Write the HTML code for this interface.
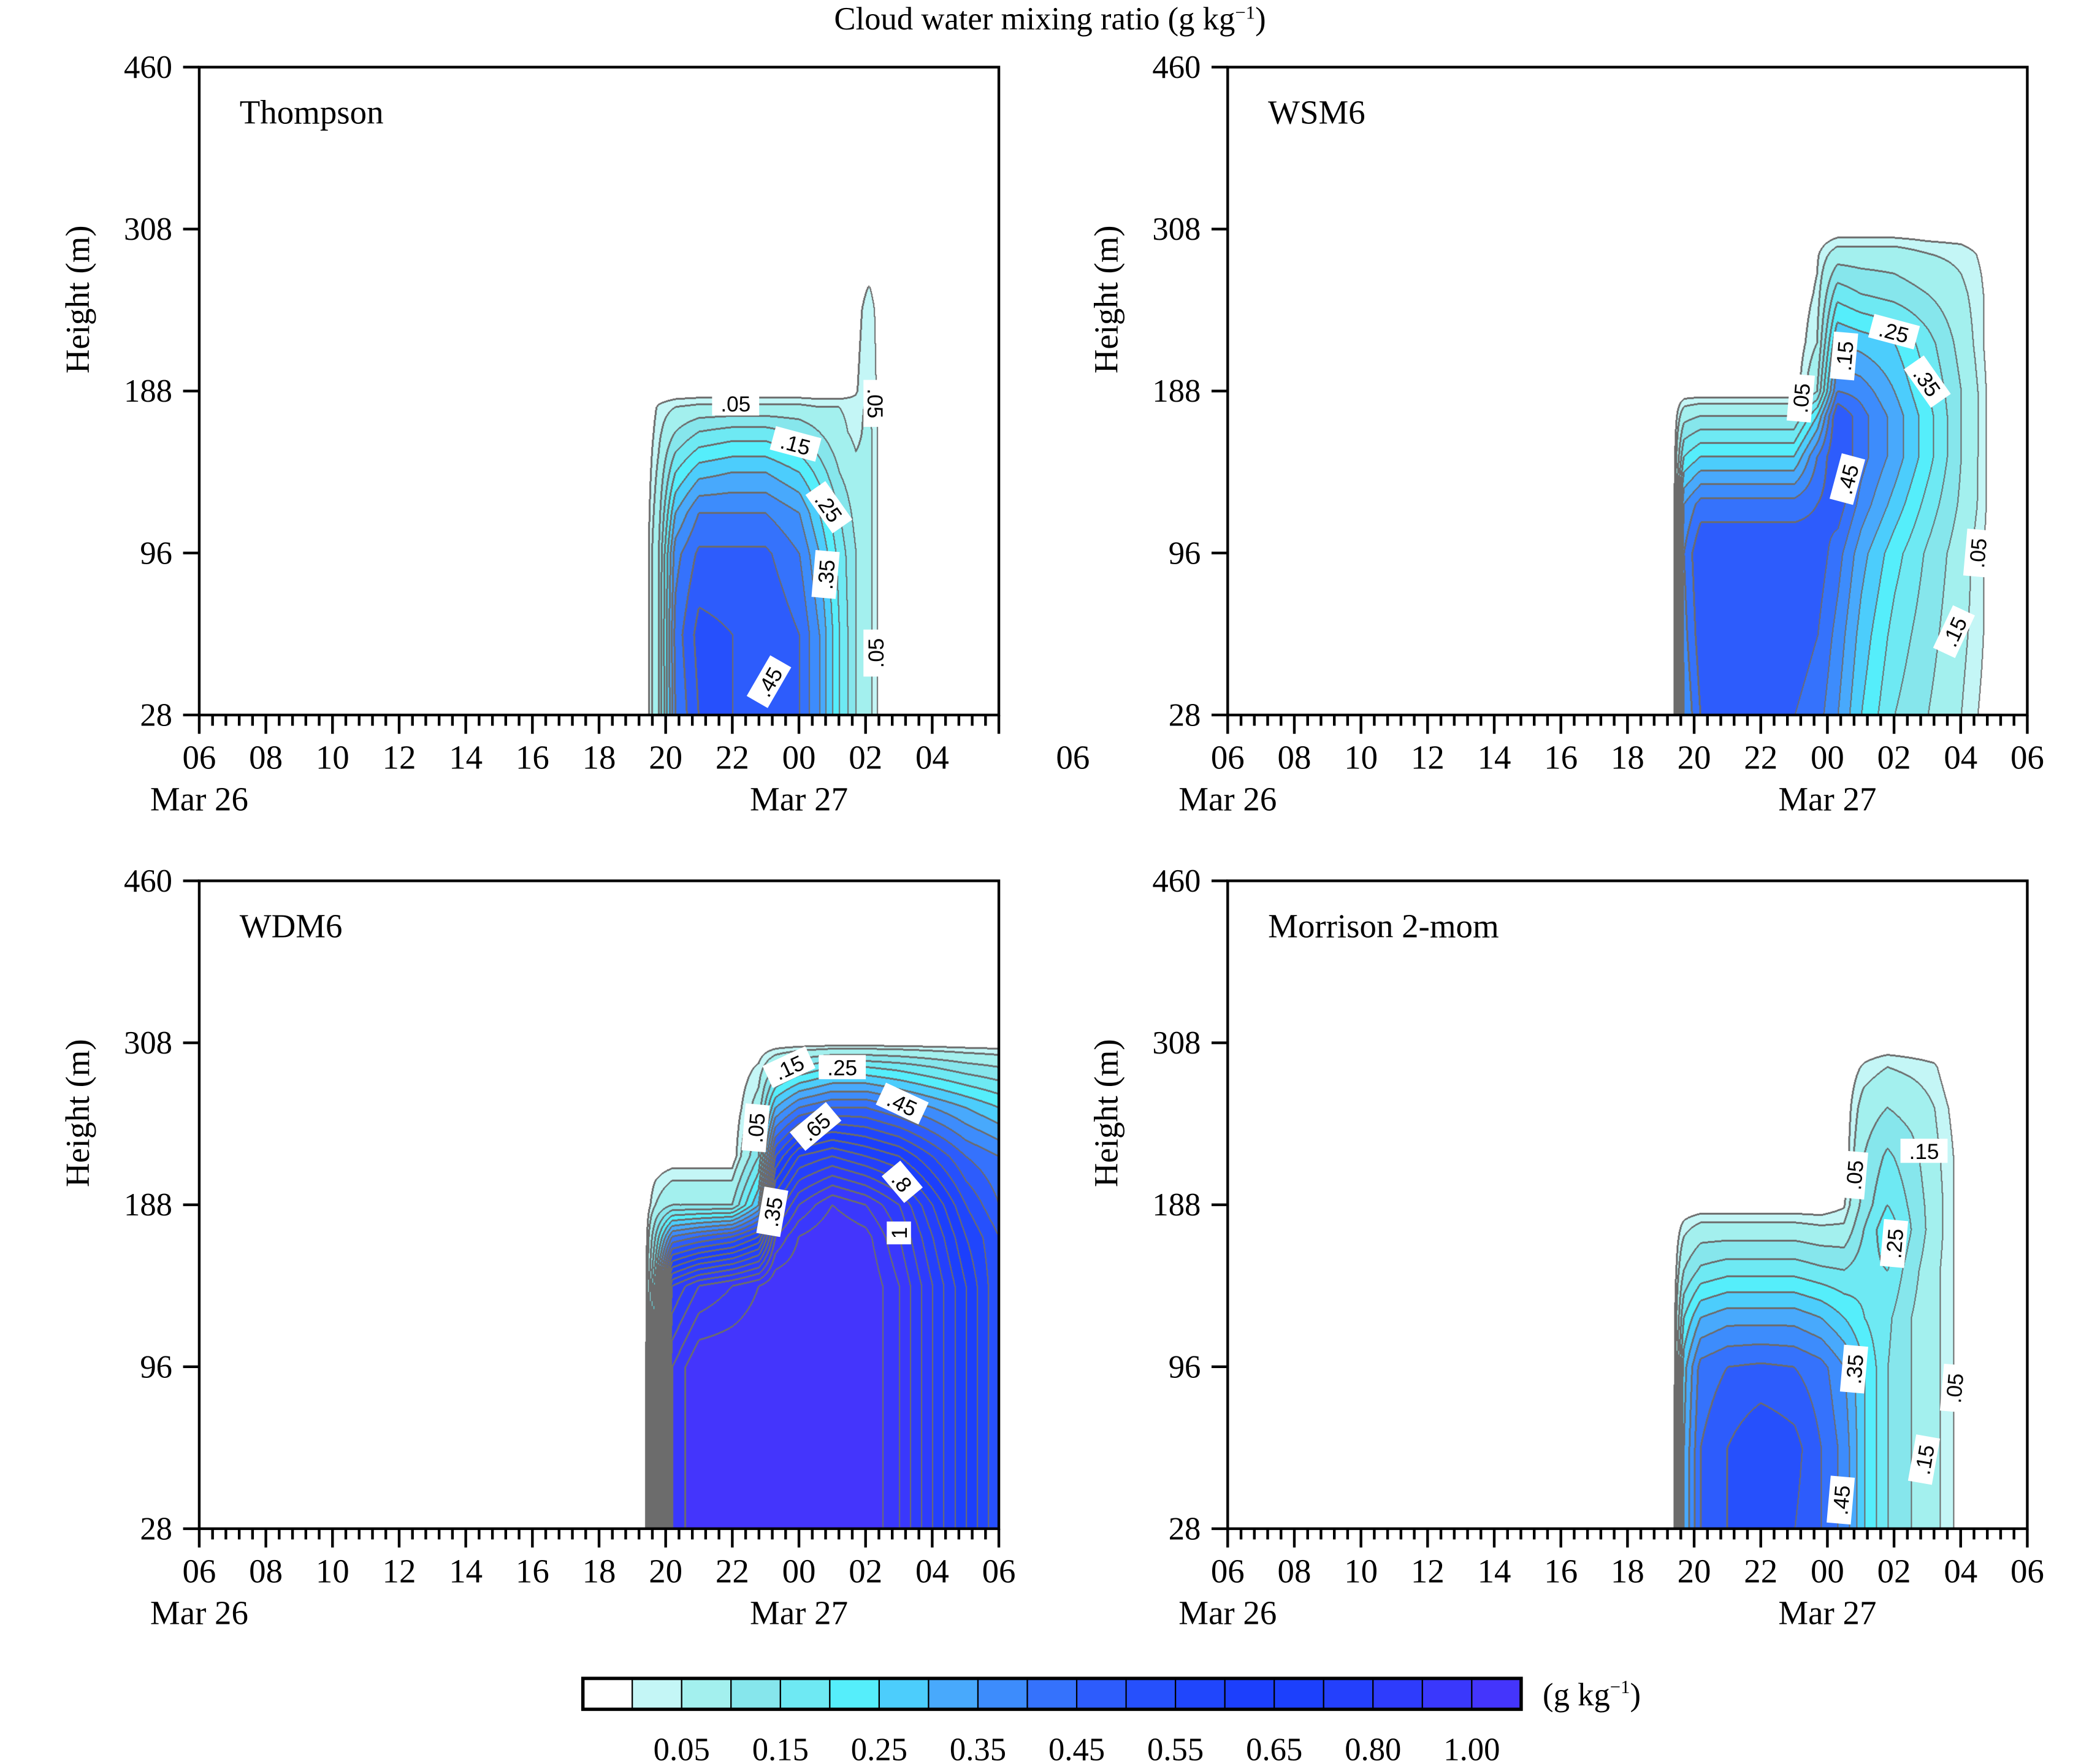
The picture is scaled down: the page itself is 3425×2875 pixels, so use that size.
<!DOCTYPE html>
<html><head><meta charset="utf-8">
<style>
html,body{margin:0;padding:0;background:#fff;}
#root{position:relative;width:1560px;height:1313px;transform:scale(2.19551,2.18964);transform-origin:0 0;font-family:"Liberation Serif",serif;}
canvas{position:absolute;}
svg{position:absolute;left:0;top:0;}
</style></head>
<body>
<div id="root">
<canvas id="c0"></canvas>
<canvas id="c1"></canvas>
<canvas id="c2"></canvas>
<canvas id="c3"></canvas>
<svg id="ov" width="1560" height="1313" viewBox="0 0 1560 1313"></svg>
</div>
<script>
// ---- data ----
const yTickLabels = [28, 96, 188, 308, 460];
const xTickLabels = ["06","08","10","12","14","16","18","20","22","00","02","04","06"];
const dateLabels = ["Mar 26","Mar 27"];
const levels = [0.025,0.05,0.1,0.15,0.2,0.25,0.3,0.35,0.4,0.45,0.5,0.55,0.6,0.65,0.7,0.8,0.9,1.0];
const lineLevels = [0.025,0.05,0.1,0.15,0.2,0.25,0.3,0.35,0.4,0.45,0.5,0.55,0.6,0.65,0.7,0.75,0.8,0.85,0.9,0.95,1.0];
const colors = ["#ffffff","#c4f6f6","#a3f0ee","#86e6ec","#6ee9f3","#55eefb","#4ccdfc","#48a9fc","#3d8cfc","#3572fc","#2d5cfc","#2650fc","#2046fc","#1c3ffc","#1c40fc","#2440fc","#2e3cfc","#3a38fc","#4435fc"];
const cbLabels = ["0.05","0.15","0.25","0.35","0.45","0.55","0.65","0.80","1.00"];
const panelNames = ["Thompson","WSM6","WDM6","Morrison 2-mom"];

// Thompson: hours since 06 Mar 26, heights (m)
const thTimes = [13.4,13.8,14.3,15,16,17,18,18.6,19.2,19.7,20.1,20.5,21];
const thHeights = [28,62,96,119,142,165,179,188,248,296];
const thValues = [
 [0,.1,.4,.5,.5,.48,.45,.35,.2,.1,.06,0,0],
 [0,.1,.42,.52,.5,.5,.45,.35,.2,.1,.06,0,0],
 [0,.1,.38,.46,.46,.46,.4,.3,.18,.1,.06,0,0],
 [0,.08,.3,.4,.4,.4,.35,.25,.15,.08,.06,0,0],
 [0,.06,.2,.28,.3,.3,.25,.18,.1,.06,.06,0,0],
 [0,.04,.1,.15,.17,.17,.14,.1,.06,.04,.06,0,0],
 [0,.03,.05,.06,.06,.06,.06,.05,.05,.04,.055,0,0],
 [0,0,0,0,0,0,0,0,0,0.02,.05,0,0],
 [0,0,0,0,0,0,0,0,0,0.01,.04,0,0],
 [0,0,0,0,0,0,0,0,0,0,0,0,0]];
// WSM6
const wsTimes = [13.4,13.7,14.2,15,16,17,17.7,18.3,19,20,21,22,22.6,23];
const wsHeights = [28,62,96,124,151,174,188,224,260,290,308];
const wsValues = [
 [0,.35,.45,.45,.45,.45,.42,.35,.25,.15,.1,.05,.02,0],
 [0,.38,.48,.48,.48,.48,.45,.38,.28,.18,.12,.06,.03,0],
 [0,.4,.5,.5,.5,.5,.48,.42,.32,.22,.14,.07,.03,0],
 [0,.35,.42,.42,.42,.42,.45,.48,.38,.28,.18,.09,.04,0],
 [0,.2,.25,.25,.25,.25,.4,.5,.42,.33,.22,.1,.04,0],
 [0,.08,.1,.1,.1,.1,.25,.5,.42,.33,.22,.1,.04,0],
 [0,0,0,0,0,0,.1,.4,.38,.3,.2,.1,.04,0],
 [0,0,0,0,0,0,.05,.3,.28,.25,.17,.08,.03,0],
 [0,0,0,0,0,0,.03,.18,.15,.13,.1,.06,.03,0],
 [0,0,0,0,0,0,.02,.07,.07,.07,.05,.04,.02,0],
 [0,0,0,0,0,0,0,0,0,0,0,0,0,0]];
// WDM6
const wdTimes = [13.4,13.7,14.2,15,16,16.8,17.3,18,19,20,21,22,23,24];
const wdHeights = [28,96,142,170,188,224,260,290,308];
const wdValues = [
 [0,.3,.95,1.05,1.05,1.05,1.05,1.05,1.05,1.05,.95,.8,.65,.5],
 [0,.3,.95,1.05,1.05,1.05,1.05,1.05,1.05,1.05,.95,.8,.65,.5],
 [0,.25,.8,.9,.95,1.0,1.05,1.05,1.05,1.05,.95,.8,.65,.5],
 [0,.15,.4,.45,.5,.6,.9,1.0,1.05,1.02,.9,.75,.6,.5],
 [0,.05,.1,.1,.1,.3,.75,.9,1.0,.95,.85,.7,.55,.45],
 [0,0,0,0,0,.15,.55,.7,.75,.7,.65,.55,.45,.4],
 [0,0,0,0,0,.07,.3,.4,.45,.45,.4,.35,.3,.25],
 [0,0,0,0,0,.03,.1,.15,.2,.2,.18,.15,.12,.1],
 [0,0,0,0,0,0,0,0,0,0,0,0,0,0]];
// Morrison
const moTimes = [13.4,13.7,14.2,15,16,17,17.8,18.5,19.1,19.8,20.5,21.2,21.7,22.1];
const moHeights = [28,62,96,124,151,174,188,224,260,290,308];
const moValues = [
 [0,.3,.45,.5,.52,.5,.45,.38,.25,.15,.1,.06,.03,0],
 [0,.3,.45,.5,.55,.52,.45,.38,.25,.15,.1,.06,.03,0],
 [0,.28,.42,.45,.46,.45,.42,.35,.25,.15,.1,.06,.03,0],
 [0,.2,.3,.33,.33,.33,.3,.25,.2,.16,.1,.06,.03,0],
 [0,.1,.16,.18,.18,.18,.16,.15,.18,.2,.12,.06,.03,0],
 [0,.04,.07,.07,.07,.07,.06,.06,.15,.24,.15,.07,.03,0],
 [0,0,0,0,0,0,0,.02,.12,.2,.14,.07,.03,0],
 [0,0,0,0,0,0,0,0,.1,.16,.12,.06,.03,0],
 [0,0,0,0,0,0,0,0,.07,.1,.08,.05,.02,0],
 [0,0,0,0,0,0,0,0,.03,.05,.04,.03,0,0],
 [0,0,0,0,0,0,0,0,0,0,0,0,0,0]];

const panelData = [[thTimes,thHeights,thValues],[wsTimes,wsHeights,wsValues],[wdTimes,wdHeights,wdValues],[moTimes,moHeights,moValues]];
// contour label annotations: [panel, hour, height(m), text, rotation]
const cLabels = [
 [0,16.1,181,".05",0],[0,17.9,158,".15",15],[0,18.9,122,".25",55],[0,18.8,87,".35",-85],[0,17.1,42,".45",-60],[0,20.3,181,".05",90],[0,20.3,54,".05",-90],
 [1,18.5,214,".15",-85],[1,20.0,232,".25",15],[1,21.0,195,".35",55],[1,18.6,138,".45",-75],[1,17.2,184,".05",-85],[1,22.5,96,".05",-85],[1,21.8,63,".15",-65],
 [2,17.7,290,".15",-25],[2,19.3,290,".25",0],[2,21.1,263,".45",25],[2,18.5,246,".65",-40],[2,21.1,205,".8",50],[2,21.0,172,"1",-90],[2,16.7,245,".05",-85],[2,17.2,184,".35",-80],
 [3,20.9,228,".15",0],[3,20.0,166,".25",-85],[3,18.8,95,".35",-85],[3,18.4,40,".45",-85],[3,18.8,210,".05",-85],[3,21.8,87,".05",-85],[3,20.9,57,".15",-80]];

// ---- layout ----
const panels = [{x0:148,y0:50},{x0:912,y0:50},{x0:148,y0:656},{x0:912,y0:656}];
const PW = 594, PH = 482.5, HOURS = 24;
const SX = 2.19551, SY = 2.18964;
function xScale(p,h){return panels[p].x0 + h/HOURS*PW;}
function uOfHeight(m){
  for(let i=0;i<yTickLabels.length-1;i++){
    if(m<=yTickLabels[i+1]) return i+(m-yTickLabels[i])/(yTickLabels[i+1]-yTickLabels[i]);
  }
  return yTickLabels.length-1;
}
function yScale(p,m){return panels[p].y0 + PH - uOfHeight(m)/(yTickLabels.length-1)*PH;}
function levelIdx(v){let k=0;while(k<levels.length && v>=levels[k])k++;return k;}
function lineIdx(v){let k=0;while(k<lineLevels.length && v>=lineLevels[k])k++;return k;}
function hex(c){return [parseInt(c.substr(1,2),16),parseInt(c.substr(3,2),16),parseInt(c.substr(5,2),16)];}
const rgb = colors.map(hex);

function sample(times,heights,vals,h,u){
  const us = heights.map(uOfHeight);
  if(h<=times[0]||h>=times[times.length-1]||u>=us[us.length-1]) return 0;
  let i=0;while(times[i+1]<h)i++;
  let j=0;while(j<us.length-2 && us[j+1]<u)j++;
  const fx=(h-times[i])/(times[i+1]-times[i]);
  const fy=Math.max(0,Math.min(1,(u-us[j])/(us[j+1]-us[j])));
  const a=vals[j][i],b=vals[j][i+1],c=vals[j+1][i],d=vals[j+1][i+1];
  return (a*(1-fx)+b*fx)*(1-fy)+(c*(1-fx)+d*fx)*fy;
}

panelData.forEach((pd,p)=>{
  const cv=document.getElementById('c'+p);
  const W=Math.round(PW*SX),H=Math.round(PH*SY);
  cv.width=W;cv.height=H;
  cv.style.left=panels[p].x0+'px';cv.style.top=panels[p].y0+'px';
  cv.style.width=PW+'px';cv.style.height=PH+'px';
  const ctx=cv.getContext('2d');
  const img=ctx.createImageData(W,H);
  const nU=yTickLabels.length-1;
  const fill=new Int16Array(W*H), li=new Int16Array(W*H);
  for(let y=0;y<H;y++){
    const u=(1-(y+0.5)/H)*nU;
    for(let x=0;x<W;x++){
      const h=(x+0.5)/W*HOURS;
      const v=sample(pd[0],pd[1],pd[2],h,u);
      fill[y*W+x]=levelIdx(v);li[y*W+x]=lineIdx(v);
    }
  }
  for(let y=0;y<H;y++)for(let x=0;x<W;x++){
    const k=y*W+x;let c=rgb[fill[k]];
    const l=li[k];
    let edge=false;
    if(x>0&&li[k-1]!==l)edge=true;
    if(y>0&&li[k-W]!==l)edge=true;
    if(x>1&&li[k-2]>l)edge=true;
    if(y>1&&li[k-2*W]>l)edge=true;
    if(x<W-2&&li[k+2]>l)edge=true;
    if(y<H-2&&li[k+2*W]>l)edge=true;
    if(edge)c=[108,108,108];
    img.data[k*4]=c[0];img.data[k*4+1]=c[1];img.data[k*4+2]=c[2];img.data[k*4+3]=255;
  }
  ctx.putImageData(img,0,0);
});

// ---- SVG overlay ----
const NS="http://www.w3.org/2000/svg";
const ov=document.getElementById('ov');
function mk(tag,attrs,parent){const e=document.createElementNS(NS,tag);for(const k in attrs)e.setAttribute(k,attrs[k]);(parent||ov).appendChild(e);return e;}

const title=mk('text',{x:780,y:22,'text-anchor':'middle','font-size':24,'font-family':'Liberation Serif, serif'});


title.innerHTML='Cloud water mixing ratio (g kg<tspan dy="-8" font-size="14">−1</tspan><tspan dy="8">)</tspan>';

panels.forEach((P,p)=>{
  const g=mk('g',{});
  
  
  const fr=mk('rect',{x:P.x0,y:P.y0,width:PW,height:PH,fill:'none',stroke:'#000','stroke-width':2},g);
  
  
  const yb=P.y0+PH;
  yTickLabels.forEach((t,i)=>{
    const y=yScale(p,t);
    mk('line',{x1:P.x0-12,x2:P.x0,y1:y,y2:y,stroke:'#000','stroke-width':2},g);
    const tx=mk('text',{x:P.x0-20,y:y+8,'text-anchor':'end','font-size':24},g);
    
    
    tx.textContent=t;
  });
  const yt=mk('text',{x:0,y:0,'text-anchor':'middle','font-size':25,transform:`translate(${P.x0-82},${P.y0+173}) rotate(-90)`},g);
  
  
  yt.textContent='Height (m)';
  for(let m=0;m<=HOURS*60;m+=24){
    const x=xScale(p,m/60);const major=(m%120===0);
    mk('line',{x1:x,x2:x,y1:yb,y2:yb+(major?14:8),stroke:'#000','stroke-width':2},g);
  }
  xTickLabels.forEach((t,i)=>{
    let x=xScale(p,i*2);
    if(p===0&&i===xTickLabels.length-1)x+=55;
    const tx=mk('text',{x:x,y:yb+40,'text-anchor':'middle','font-size':25},g);
    
    
    tx.textContent=t;
  });
  dateLabels.forEach((d,i)=>{
    const tx=mk('text',{x:xScale(p,i*18),y:yb+71,'text-anchor':'middle','font-size':25},g);
    
    
    tx.textContent=d;
  });
  const pn=mk('text',{x:P.x0+30,y:P.y0+42,'font-size':25},g);
  
  
  pn.textContent=panelNames[p];
});

cLabels.forEach(c=>{
  const x=xScale(c[0],c[1]),y=yScale(c[0],c[2]);
  const g=mk('g',{transform:`translate(${x},${y}) rotate(${c[4]})`});
  
  
  const w=c[3].length*9+8;
  mk('rect',{x:-w/2,y:-9,width:w,height:18,fill:'#fff'},g);
  const t=mk('text',{x:0,y:6,'text-anchor':'middle','font-size':16,'font-family':'Liberation Sans, sans-serif'},g);
  t.textContent=c[3];
});

const cbX=433,cbY=1250,cbW=697,cbH=23,bw=cbW/colors.length;
const cb=mk('g',{});


colors.forEach((c,i)=>{
  const r=mk('rect',{x:cbX+i*bw,y:cbY,width:bw,height:cbH,fill:c,stroke:'#000','stroke-width':1},cb);
  
  
});
mk('rect',{x:cbX,y:cbY,width:cbW,height:cbH,fill:'none',stroke:'#000','stroke-width':2.5},cb);
cbLabels.forEach((l,i)=>{
  const t=mk('text',{x:cbX+(2+2*i)*bw,y:1311,'text-anchor':'middle','font-size':24},cb);
  
  
  t.textContent=l;
});
const un=mk('text',{x:1146,y:1270,'font-size':24},cb);


un.innerHTML='(g kg<tspan dy="-9" font-size="14">−1</tspan><tspan dy="9">)</tspan>';
</script>
</body></html>
